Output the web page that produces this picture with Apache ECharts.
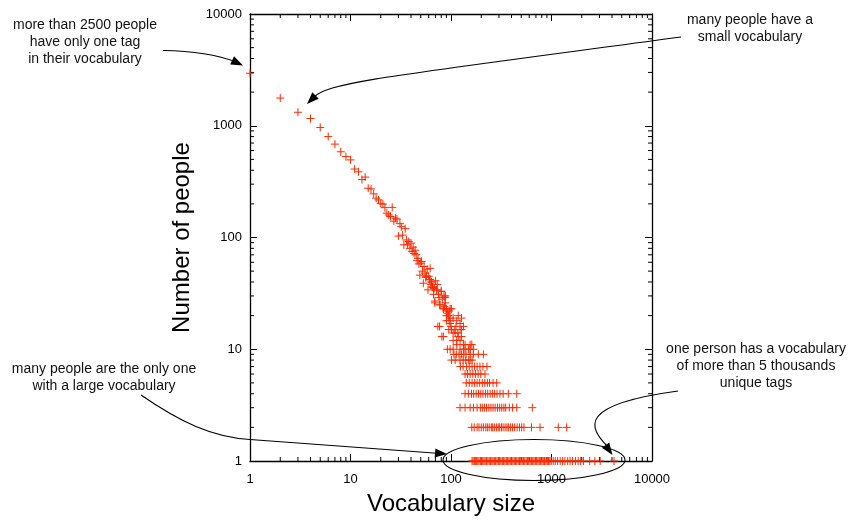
<!DOCTYPE html>
<html>
<head>
<meta charset="utf-8">
<script src="https://cdn.jsdelivr.net/npm/echarts@6/dist/echarts.min.js"></script>
<style>html,body{margin:0;padding:0;background:#fff}#c{width:850px;height:522px}</style>
</head>
<body>
<div id="c"></div>
<script>
// ---- data ----
const axisTicks = [1, 10, 100, 1000, 10000];
const minorMultipliers = [2, 3, 4, 5, 6, 7, 8, 9];

// one point per vocabulary size (head of the distribution)
const headSize = [1,2,3,4,5,6,7,8,9,10,11,12,13,14,15,16,17,18,19,20,21,22,23,24,25,26,27,28,29,30,
  31,32,33,34,35,36,37,38,39,40,41,42,43,44,45,46,47,48,49,50,51,52,53,54,55,56,57,58,59,60,
  61,62,63,64,65,66,67,68,69,70,72,74,76,78,80,81,84,85,87,88,90,92,94,96,98,101,105];
const headPeople = [2950,1770,1320,1160,965,800,685,585,530,495,410,387,330,347,276,272,246,225,217,202,199,185,165,159,154,186,140,149,146,103,
  133,125,105,86,120,95,86,92,80,89,75,82,72,77,70,62,65,58,46,59,61,50,39,55,48,44,45,52,34,45,
  42,53,38,40,36,36,31,35,27,41,34,16,29,25,33,13,23,30,29,30,22,10,20,18,23,15,14];

// scattered cloud between 10 and 40 people
const cloudSize = [90,101,90,118,98,123,114,90,109,127,123,133,105,127,84,118,127,114,123,105,133,155,138,114,161,
  98,105,123,133,138,149,155,167,77,69,84,94,98,77,72,80,66,64,57,110,96,88,82,75,73,62,86,92,100,112,117,95];
const cloudPeople = [23,23,20,20,17,17,18,18,15,15,15,16,19,19,13,13,13,12,12,12,11,11,11,11,11,
  10,10,10,10,10,10,10,10,25,26,23,20,19,16,34,33,36,40,45,14,22,26,28,31,38,42,24,21,16,16,14,15];

// rows of small counts: vocabulary sizes having exactly N people
const sizesWith9 = [107,113,120,127,134,141,155,167,187,210];
const sizesWith8 = [101,110,123,132,140,150,155,162];
const sizesWith7 = [124,132,143,152,162,172,182,194,208,228];
const sizesWith6 = [138,146,155,165,175,186,198,218];
const sizesWith5 = [142,152,162,172,182,193,205,217,230,242,262,285];
const sizesWith4 = [138,149,160,168,178,188,198,208,220,232,245,258,272,287,307,330,372,451];
const sizesWith3 = [123,138,155,167,182,196,205,215,226,238,250,262,275,290,305,320,336,350,380,410,451,644];
const sizesWith2 = [161,170,182,190,200,210,222,230,240,252,260,270,283,295,305,318,330,345,360,372,390,410,430,455,480,505,532,632,769,1169,1416];
const sizesWith1 = [162,166,171,176,180,185,190,196,201,207,213,219,226,233,240,247,255,262,270,278,287,296,305,314,324,334,344,355,366,377,389,401,413,426,439,452,466,480,495,510,526,542,559,576,594,612,631,650,670,690,712,734,756,780,803,828,853,880,907,934,963,993,1040,1090,1150,1220,1290,1360,1450,1530,1620,1730,1840,1950,2080,2400,2700,3050,4190];

// ---- build ----
const points = [];
headSize.forEach((s, i) => points.push([s, headPeople[i]]));
cloudSize.forEach((s, i) => points.push([s, cloudPeople[i]]));
[[sizesWith1,1],[sizesWith2,2],[sizesWith3,3],[sizesWith4,4],[sizesWith5,5],[sizesWith6,6],[sizesWith7,7],[sizesWith8,8],[sizesWith9,9]]
  .forEach(([arr, n]) => arr.forEach(s => points.push([s, n])));

const minorVals = [];
[1, 10, 100, 1000].forEach(d => minorMultipliers.forEach(m => minorVals.push(d * m)));

const RED = '#ff2a00';
const FONT = '"Liberation Sans", Arial, Helvetica, sans-serif';

function logAxis(pos, show) {
  return {
    type: 'log', logBase: 10, min: 1, max: 10000, position: pos,
    axisLine: { show: true, onZero: false, lineStyle: { color: '#000', width: 1.3 } },
    axisTick: { show: true, inside: true, length: 7, lineStyle: { color: '#000', width: 1 } },
    splitLine: { show: false },
    axisLabel: { show: show, color: '#000', fontSize: 13, fontFamily: FONT,
      formatter: v => String(Math.round(v)) }
  };
}

const xBottom = Object.assign(logAxis('bottom', true), {
  name: 'Vocabulary size', nameLocation: 'middle', nameGap: 31,
  nameTextStyle: { fontSize: 24, fontFamily: FONT, color: '#000' }
});
xBottom.axisLabel.margin = 12;
const yLeft = Object.assign(logAxis('left', true), {
  name: 'Number of people', nameLocation: 'middle', nameGap: 56,
  nameTextStyle: { fontSize: 24, fontFamily: FONT, color: '#000' }
});
yLeft.axisLabel.margin = 8;

const chart = echarts.init(document.getElementById('c'), null, { renderer: 'canvas' });

function arrowHead(tip, from, len, hw) {
  const dx = tip[0] - from[0], dy = tip[1] - from[1];
  const L = Math.hypot(dx, dy); const ux = dx / L, uy = dy / L;
  const bx = tip[0] - ux * len, by = tip[1] - uy * len;
  return { type: 'polygon', silent: true, z: 50,
    shape: { points: [tip, [bx - uy * hw, by + ux * hw], [bx + uy * hw, by - ux * hw]] },
    style: { fill: '#000' } };
}
const lineStyle = { stroke: '#000', lineWidth: 1.1, fill: null };
function textEl(x, y, t) {
  return { type: 'text', silent: true, z: 50, x: x, y: y,
    style: { text: t, fill: '#111', font: '14px ' + FONT, align: 'center', verticalAlign: 'top', lineHeight: 17 } };
}

chart.setOption({
  animation: false,
  grid: { left: 250, right: 198, top: 14, bottom: 61, containLabel: false },
  xAxis: [xBottom, logAxis('top', false)],
  yAxis: [yLeft, logAxis('right', false)],
  series: [
    {
      type: 'custom', name: 'minor', clip: false, silent: true,
      data: minorVals.map(v => [v]),
      renderItem: (params, api) => {
        const v = api.value(0);
        const xb = api.coord([v, 1]), xt = api.coord([v, 10000]);
        const yl = api.coord([1, v]), yr = api.coord([10000, v]);
        const st = { stroke: '#000', lineWidth: 1 };
        return { type: 'group', children: [
          { type: 'line', shape: { x1: xb[0], y1: xb[1], x2: xb[0], y2: xb[1] - 4 }, style: st },
          { type: 'line', shape: { x1: xt[0], y1: xt[1], x2: xt[0], y2: xt[1] + 4 }, style: st },
          { type: 'line', shape: { x1: yl[0], y1: yl[1], x2: yl[0] + 4, y2: yl[1] }, style: st },
          { type: 'line', shape: { x1: yr[0], y1: yr[1], x2: yr[0] - 4, y2: yr[1] }, style: st }
        ]};
      }
    },
    {
      type: 'custom', name: 'people', clip: false, silent: true,
      data: points,
      renderItem: (params, api) => {
        const p = api.coord([api.value(0), api.value(1)]);
        const h = 4;
        const st = { stroke: RED, lineWidth: 1 };
        return { type: 'group', children: [
          { type: 'line', shape: { x1: p[0] - h, y1: p[1], x2: p[0] + h, y2: p[1] }, style: st },
          { type: 'line', shape: { x1: p[0], y1: p[1] - h, x2: p[0], y2: p[1] + h }, style: st }
        ]};
      }
    }
  ],
  graphic: [
    textEl(85, 17, 'more than 2500 people\nhave only one tag\nin their vocabulary'),
    textEl(750, 12, 'many people have a\nsmall vocabulary'),
    textEl(104, 361, 'many people are the only one\nwith a large vocabulary'),
    textEl(756, 341, 'one person has a vocabulary\nof more than 5 thousands\nunique tags'),
    // arrow 1
    { type: 'bezierCurve', silent: true, z: 50, shape: { x1: 163, y1: 50.5, cpx1: 195, cpy1: 51, cpx2: 218, cpy2: 55, x2: 236, y2: 62 }, style: lineStyle },
    arrowHead([243, 65.5], [228, 58.5], 12, 4.5),
    // arrow 2
    { type: 'bezierCurve', silent: true, z: 50, shape: { x1: 681, y1: 37, cpx1: 390, cpy1: 76, cpx2: 330, cpy2: 82, x2: 314, y2: 97 }, style: lineStyle },
    arrowHead([307, 104], [317, 94], 12, 4.5),
    // arrow 3
    { type: 'bezierCurve', silent: true, z: 50, shape: { x1: 141, y1: 395, cpx1: 180, cpy1: 422, cpx2: 212, cpy2: 437, x2: 250, y2: 439.5 }, style: lineStyle },
    { type: 'line', silent: true, z: 50, shape: { x1: 250, y1: 439.5, x2: 437, y2: 453.2 }, style: lineStyle },
    arrowHead([447, 454], [435, 453], 12, 4.5),
    // arrow 4
    { type: 'bezierCurve', silent: true, z: 50, shape: { x1: 678, y1: 391, cpx1: 575, cpy1: 405, cpx2: 590, cpy2: 428, x2: 607, y2: 446 }, style: lineStyle },
    arrowHead([612.5, 455], [604, 443], 12, 4.5),
    // ellipse
    { type: 'ellipse', silent: true, z: 50, shape: { cx: 534, cy: 460, rx: 91, ry: 20.5 }, style: { stroke: '#000', lineWidth: 1.1, fill: null } }
  ]
});
</script>
</body>
</html>
